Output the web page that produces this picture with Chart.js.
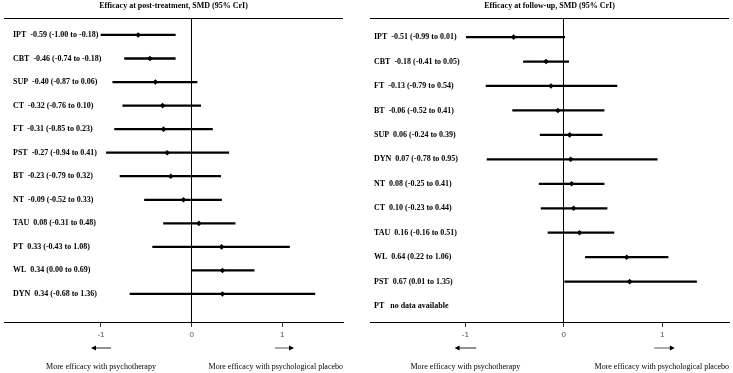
<!DOCTYPE html>
<html lang="en">
  <head>
    <meta charset="utf-8" />
    <title>Forest plots, SMD (95% CrI)</title>
    <style>
      * {
        margin: 0;
        padding: 0;
      }
      body {
        width: 733px;
        height: 373px;
        background: #fff;
        position: relative;
        overflow: hidden;
      }
      canvas {
        position: absolute;
        top: 0;
      }
      #postChart {
        left: 0;
      }
      #followChart {
        left: 366px;
      }
    </style>
  </head>
  <body>
    <canvas id="postChart" width="366" height="373"></canvas>
    <canvas id="followChart" width="367" height="373"></canvas>

    <script src="https://cdn.jsdelivr.net/npm/chart.js"></script>

    <script>
      // post-treatment panel
      const postGroups = ["IPT", "CBT", "SUP", "CT", "FT", "PST", "BT", "NT", "TAU", "PT", "WL", "DYN"];
      const postEst = [-0.59, -0.46, -0.4, -0.32, -0.31, -0.27, -0.23, -0.09, 0.08, 0.33, 0.34, 0.34];
      const postLow = [-1.0, -0.74, -0.87, -0.76, -0.85, -0.94, -0.79, -0.52, -0.31, -0.43, 0.0, -0.68];
      const postHigh = [-0.18, -0.18, 0.06, 0.1, 0.23, 0.41, 0.32, 0.33, 0.48, 1.08, 0.69, 1.36];

      // follow-up panel (PT has no data)
      const followGroups = ["IPT", "CBT", "FT", "BT", "SUP", "DYN", "NT", "CT", "TAU", "WL", "PST", "PT"];
      const followEst = [-0.51, -0.18, -0.13, -0.06, 0.06, 0.07, 0.08, 0.1, 0.16, 0.64, 0.67, null];
      const followLow = [-0.99, -0.41, -0.79, -0.52, -0.24, -0.78, -0.25, -0.23, -0.16, 0.22, 0.01, null];
      const followHigh = [0.01, 0.05, 0.54, 0.41, 0.39, 0.95, 0.41, 0.44, 0.51, 1.06, 1.35, null];

      const xTicks = [-1, 0, 1];

      const SERIF = "'Liberation Serif', 'Times New Roman', serif";

      function rowLabel(groups, est, low, high, i) {
        if (est[i] == null) return groups[i] + "   no data available";
        const f = (v) => v.toFixed(2);
        return groups[i] + "  " + f(est[i]) + " (" + f(low[i]) + " to " + f(high[i]) + ")";
      }

      function arrow(ctx, x1, x2, y, lineColor) {
        // line from x1 to x2, head at x2
        const dir = Math.sign(x2 - x1);
        ctx.beginPath();
        ctx.strokeStyle = lineColor;
        ctx.lineWidth = 1;
        ctx.moveTo(x1, y);
        ctx.lineTo(x2 - dir * 3, y);
        ctx.stroke();
        ctx.beginPath();
        ctx.fillStyle = "#000";
        ctx.moveTo(x2, y);
        ctx.lineTo(x2 - dir * 5, y - 2.5);
        ctx.lineTo(x2 - dir * 5, y + 2.5);
        ctx.closePath();
        ctx.fill();
      }

      // draws title, top rule, row labels, arrows and footer text
      const forestText = {
        id: "forestText",
        afterDraw(chart, args, opts) {
          const {
            ctx,
            chartArea: { top, bottom, left, right },
            scales: { x, y },
          } = chart;
          ctx.save();

          // top rule
          ctx.beginPath();
          ctx.strokeStyle = "#000";
          ctx.lineWidth = 1;
          ctx.moveTo(left, top + 0.5);
          ctx.lineTo(right, top + 0.5);
          ctx.stroke();

          // title
          ctx.fillStyle = "#000";
          ctx.font = "bold 8px " + SERIF;
          ctx.textAlign = "center";
          ctx.textBaseline = "middle";
          ctx.fillText(opts.title, (left + right) / 2, 6);

          // row labels
          ctx.font = "bold 8px " + SERIF;
          ctx.textAlign = "left";
          opts.groups.forEach((g, i) => {
            const text = rowLabel(opts.groups, opts.est, opts.low, opts.high, i);
            ctx.fillText(text, left + opts.labelX, y.getPixelForValue(i));
          });

          // direction arrows
          const ay = bottom + 26;
          arrow(ctx, x.getPixelForValue(-0.89), x.getPixelForValue(-1.11), ay, "#222");
          arrow(ctx, x.getPixelForValue(0.92), x.getPixelForValue(1.13), ay, "#555");

          // footer text
          const fy = bottom + 45;
          ctx.font = "8px " + SERIF;
          ctx.fillStyle = "#000";
          ctx.textAlign = "center";
          ctx.fillText("More efficacy with psychotherapy", x.getPixelForValue(-1), fy);
          ctx.textAlign = "right";
          ctx.fillText("More efficacy with psychological placebo", right, fy);

          ctx.restore();
        },
      };

      function makeForest(canvasId, p) {
        const bars = [];
        const points = [];
        p.groups.forEach((g, i) => {
          if (p.est[i] == null) return;
          bars.push({ y: i, x: [p.low[i], p.high[i]] });
          points.push({ y: i, x: p.est[i] });
        });

        const config = {
          type: "scatter",
          data: {
            datasets: [
              {
                type: "bar",
                indexAxis: "y",
                order: 2,
                data: bars,
                backgroundColor: "#000",
                borderWidth: 0,
                barThickness: 1.6,
              },
              {
                type: "scatter",
                order: 1,
                data: points,
                pointStyle: "rectRot",
                pointRadius: 2.8,
                backgroundColor: "#000",
                borderWidth: 0,
              },
            ],
          },
          options: {
            responsive: false,
            animation: false,
            events: [],
            layout: {
              padding: p.padding,
            },
            plugins: {
              legend: { display: false },
              tooltip: { enabled: false },
              forestText: p,
            },
            scales: {
              x: {
                type: "linear",
                min: p.xMin,
                max: p.xMax,
                offset: false,
                afterBuildTicks: (scale) => {
                  scale.ticks = xTicks.map((v) => ({ value: v }));
                },
                afterFit: (scale) => {
                  scale.height = 20;
                },
                grid: {
                  offset: false,
                  color: (c) => (c.tick && c.tick.value === 0 ? "#000" : "rgba(0,0,0,0)"),
                  tickColor: "#333",
                  tickLength: 5,
                  lineWidth: 1,
                },
                border: { display: true, color: "#000", width: 1 },
                ticks: {
                  padding: 3,
                  color: "#555",
                  font: { size: 8, family: "'Liberation Sans', Arial, sans-serif" },
                },
              },
              y: {
                type: "linear",
                display: false,
                reverse: true,
                offset: false,
                min: p.yMin,
                max: p.yMax,
              },
            },
          },
          plugins: [forestText],
        };

        return new Chart(document.getElementById(canvasId), config);
      }

      makeForest("postChart", {
        title: "Efficacy at post-treatment, SMD (95% CrI)",
        groups: postGroups,
        est: postEst,
        low: postLow,
        high: postHigh,
        labelX: 9,
        xMin: -2.07,
        xMax: 1.67,
        yMin: -0.72,
        yMax: 12.19,
        padding: { top: 18, left: 3, right: 23, bottom: 31 },
      });

      makeForest("followChart", {
        title: "Efficacy at follow-up, SMD (95% CrI)",
        groups: followGroups,
        est: followEst,
        low: followLow,
        high: followHigh,
        labelX: 4,
        xMin: -1.97,
        xMax: 1.68,
        yMin: -0.78,
        yMax: 11.65,
        padding: { top: 18, left: 0, right: 0, bottom: 31 },
      });
    </script>
  </body>
</html>
